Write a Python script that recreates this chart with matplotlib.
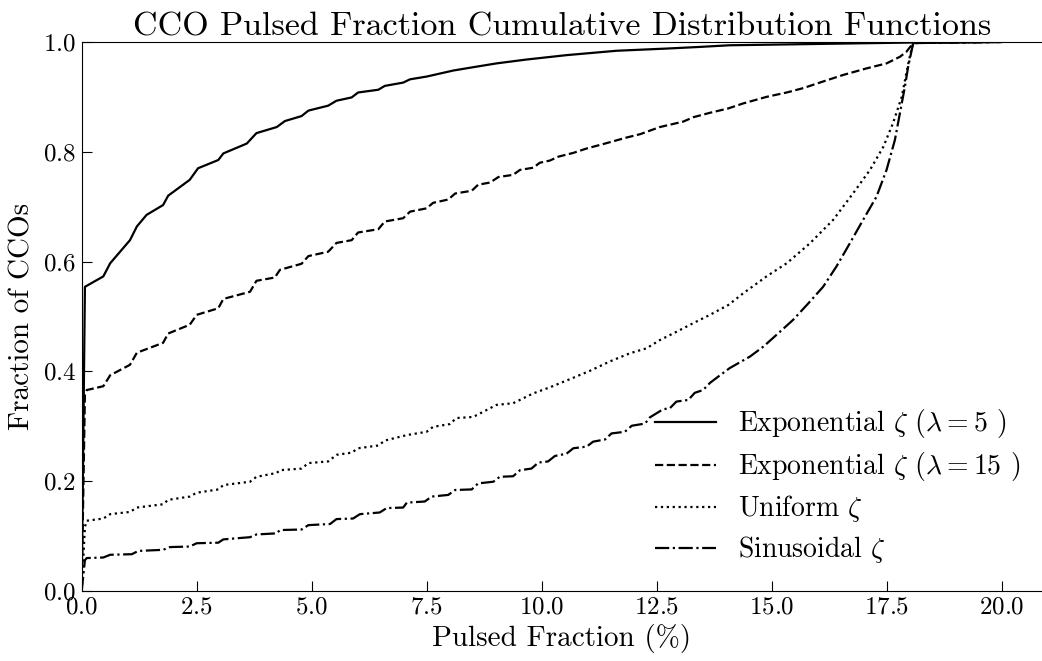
import matplotlib
matplotlib.use("Agg")
import matplotlib.pyplot as plt

plt.rcParams['font.family'] = 'serif'
plt.rcParams['font.serif'] = ['cmr10']
plt.rcParams['mathtext.fontset'] = 'cm'
plt.rcParams['axes.formatter.use_mathtext'] = True
plt.rcParams['axes.unicode_minus'] = False

# Exponential zeta, lambda = 5
x_exp5 = [0.0, 0.07, 0.47, 0.62, 1.05, 1.20, 1.41, 1.77, 1.88, 2.35, 2.53, 2.97, 3.08,
          3.59, 3.80, 4.24, 4.42, 4.78, 4.93, 5.36, 5.54, 5.87, 6.01, 6.45, 6.59, 6.99,
          7.14, 7.50, 8.08, 8.51, 9.02, 9.67, 10.54, 11.63, 12.72, 13.44, 14.09, 18.07, 20.0]
y_exp5 = [0.0, 0.554, 0.573, 0.597, 0.639, 0.664, 0.685, 0.703, 0.720, 0.749, 0.770, 0.785, 0.797,
          0.815, 0.834, 0.845, 0.856, 0.865, 0.875, 0.884, 0.893, 0.899, 0.908, 0.913, 0.920, 0.926,
          0.932, 0.937, 0.948, 0.954, 0.961, 0.968, 0.976, 0.984, 0.988, 0.991, 0.994, 0.999, 1.0]

# Exponential zeta, lambda = 15
x_exp15 = [0.0, 0.07, 0.11, 0.47, 0.62, 1.05, 1.20, 1.77, 1.88, 2.35, 2.50, 2.97, 3.08, 3.66,
           3.80, 4.20, 4.31, 4.78, 4.93, 5.36, 5.54, 5.87, 6.01, 6.45, 6.59, 6.99, 7.14, 7.50,
           7.64, 7.97, 8.12, 8.48, 8.62, 8.88, 9.06, 9.38, 9.53, 9.82, 9.96, 10.18, 10.36,
           10.69, 10.98, 11.38, 11.85, 12.14, 12.57, 13.08, 13.30, 13.66, 14.06, 14.38, 14.89,
           15.33, 15.69, 16.12, 16.56, 17.07, 17.50, 17.79, 17.93, 18.08, 20.0]
y_exp15 = [0.0, 0.357, 0.366, 0.373, 0.393, 0.412, 0.434, 0.452, 0.469, 0.485, 0.503, 0.515, 0.532, 0.545,
           0.565, 0.571, 0.585, 0.596, 0.610, 0.618, 0.634, 0.639, 0.653, 0.659, 0.673, 0.679, 0.691, 0.697,
           0.707, 0.713, 0.724, 0.729, 0.740, 0.744, 0.754, 0.758, 0.767, 0.771, 0.780, 0.784, 0.791,
           0.798, 0.806, 0.815, 0.826, 0.832, 0.845, 0.855, 0.863, 0.871, 0.879, 0.888, 0.900,
           0.908, 0.916, 0.928, 0.940, 0.952, 0.961, 0.973, 0.982, 0.998, 1.0]

# Uniform zeta
x_unif = [0.0, 0.07, 0.11, 0.47, 0.62, 1.05, 1.20, 1.77, 1.88, 2.35, 2.50, 2.97, 3.08, 3.66,
          3.80, 4.24, 4.31, 4.78, 4.93, 5.36, 5.54, 5.87, 6.01, 6.45, 6.59, 7.07, 7.50, 7.64,
          8.00, 8.15, 8.51, 9.02, 9.38, 9.82, 10.18, 10.62, 11.05, 11.48, 11.92, 12.28, 12.57,
          12.93, 13.30, 13.66, 14.06, 14.38, 14.89, 15.33, 15.83, 16.34, 16.77, 17.14, 17.43,
          17.64, 17.83, 17.93, 18.02, 18.08, 20.0]
y_unif = [0.0, 0.117, 0.128, 0.132, 0.140, 0.144, 0.152, 0.158, 0.166, 0.172, 0.179, 0.185, 0.193, 0.199,
          0.208, 0.215, 0.220, 0.223, 0.233, 0.236, 0.248, 0.252, 0.260, 0.265, 0.274, 0.284, 0.290, 0.299,
          0.304, 0.315, 0.317, 0.339, 0.342, 0.360, 0.371, 0.386, 0.401, 0.418, 0.433, 0.442, 0.457,
          0.472, 0.488, 0.503, 0.521, 0.542, 0.573, 0.597, 0.633, 0.676, 0.724, 0.767, 0.809,
          0.852, 0.900, 0.943, 0.979, 0.998, 1.0]

# Sinusoidal zeta
x_sin = [0.0, 0.07, 0.11, 0.47, 0.62, 1.09, 1.23, 1.77, 1.92, 2.35, 2.50, 2.97, 3.08, 3.66,
         3.80, 4.24, 4.31, 4.78, 4.93, 5.40, 5.54, 5.90, 6.05, 6.48, 6.63, 6.99, 7.07, 7.46,
         7.61, 7.97, 8.12, 8.48, 8.62, 8.95, 9.09, 9.38, 9.53, 9.78, 9.93, 10.14, 10.29, 10.54,
         10.69, 10.98, 11.12, 11.38, 11.52, 11.81, 11.96, 12.25, 12.35, 12.64, 12.79, 12.93,
         13.19, 13.33, 13.51, 13.66, 13.88, 14.09, 14.53, 14.82, 15.18, 15.47, 15.80, 16.12,
         16.41, 16.70, 16.99, 17.28, 17.50, 17.68, 17.79, 17.90, 17.97, 18.08, 20.0]
y_sin = [0.0, 0.056, 0.060, 0.061, 0.066, 0.067, 0.073, 0.075, 0.080, 0.081, 0.087, 0.088, 0.094, 0.098,
         0.103, 0.105, 0.111, 0.112, 0.120, 0.122, 0.131, 0.132, 0.140, 0.143, 0.151, 0.152, 0.161, 0.163,
         0.172, 0.175, 0.184, 0.185, 0.196, 0.199, 0.208, 0.209, 0.220, 0.223, 0.234, 0.236, 0.246, 0.250,
         0.260, 0.263, 0.272, 0.276, 0.287, 0.290, 0.301, 0.305, 0.316, 0.331, 0.333, 0.345,
         0.348, 0.361, 0.366, 0.379, 0.393, 0.406, 0.427, 0.445, 0.472, 0.494, 0.524, 0.554,
         0.591, 0.633, 0.676, 0.718, 0.767, 0.821, 0.870, 0.919, 0.955, 0.998, 1.0]

labels = [r'Exponential $\zeta$ ($\lambda=5$ )',
          r'Exponential $\zeta$ ($\lambda=15$ )',
          r'Uniform $\zeta$',
          r'Sinusoidal $\zeta$']

fig = plt.figure(figsize=(10.42, 6.61), dpi=100)
ax = fig.add_axes([0.0784, 0.1059, 0.9216, 0.8306])

lw = 1.6
ax.plot(x_exp5, y_exp5, color='black', lw=lw, linestyle='-', label=labels[0])
ax.plot(x_exp15, y_exp15, color='black', lw=lw, linestyle='--', label=labels[1])
ax.plot(x_unif, y_unif, color='black', lw=lw, linestyle=':', label=labels[2])
ax.plot(x_sin, y_sin, color='black', lw=lw, linestyle='-.', label=labels[3])

ax.set_xlim(0, 20.88)
ax.set_ylim(0, 1.0)
ax.set_xticks([0.0, 2.5, 5.0, 7.5, 10.0, 12.5, 15.0, 17.5, 20.0])
ax.set_yticks([0.0, 0.2, 0.4, 0.6, 0.8, 1.0])
ax.tick_params(direction='in', length=7.5, labelsize=18, pad=4, top=False, right=False)
ax.spines['right'].set_visible(False)

ax.set_title('CCO Pulsed Fraction Cumulative Distribution Functions', fontsize=24.5, pad=2)
ax.set_xlabel('Pulsed Fraction (%)', fontsize=21, labelpad=4)
ax.set_ylabel('Fraction of CCOs', fontsize=21, labelpad=5)

ax.legend(loc='lower right', frameon=False, fontsize=20, handlelength=2.2,
          bbox_to_anchor=(1.004, 0.0), borderaxespad=0.52, labelspacing=0.36)

fig.savefig('out.png', dpi=100)
